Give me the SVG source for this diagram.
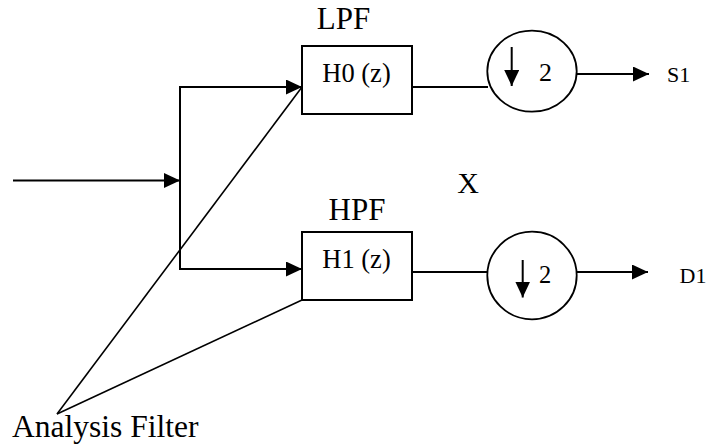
<svg xmlns="http://www.w3.org/2000/svg" width="710" height="446" viewBox="0 0 710 446">
<style>
text{font-family:"Liberation Serif","Times New Roman",serif;fill:#000}
.ln{stroke:#000;stroke-width:2;fill:none}
.thin{stroke:#000;stroke-width:1.6;fill:none}
.box{stroke:#000;stroke-width:2;fill:#fff}
.circ{stroke:#000;stroke-width:1.8;fill:#fff}
</style>
<defs>
<marker id="ah" markerUnits="userSpaceOnUse" markerWidth="16" markerHeight="16" refX="16" refY="7.5" orient="auto">
<path d="M0,0 L16,7.5 L0,15 Z" fill="#000"/>
</marker>
</defs>
<g id="connectors">
<line class="ln" x1="13" y1="180.5" x2="180" y2="180.5" marker-end="url(#ah)"/>
<polyline class="ln" points="302,87 180,87 180,269 302,269"/>
<line class="ln" x1="180" y1="87" x2="302" y2="87" marker-end="url(#ah)"/>
<line class="ln" x1="180" y1="269" x2="302" y2="269" marker-end="url(#ah)"/>
<line class="ln" x1="412" y1="87" x2="488" y2="87"/>
<line class="ln" x1="412" y1="272" x2="488" y2="272"/>
<line class="ln" x1="576" y1="74" x2="649" y2="74" marker-end="url(#ah)"/>
<line class="ln" x1="576" y1="272" x2="648" y2="272" marker-end="url(#ah)"/>
<line class="thin" x1="57" y1="414" x2="302" y2="87"/>
<line class="thin" x1="57" y1="414" x2="302" y2="300"/>
</g>
<g id="lpf">
<rect class="box" x="302" y="46" width="110" height="68"/>
<text x="356.5" y="81.5" font-size="26.5" text-anchor="middle">H0 (z)</text>
<text x="343.5" y="28.5" font-size="31" text-anchor="middle">LPF</text>
</g>
<g id="hpf">
<rect class="box" x="302" y="232" width="110" height="68"/>
<text x="356.5" y="268" font-size="26.5" text-anchor="middle">H1 (z)</text>
<text x="357" y="220" font-size="31" text-anchor="middle">HPF</text>
</g>
<g id="down1">
<ellipse class="circ" cx="532" cy="71.2" rx="44.7" ry="40.5"/>
<line class="ln" x1="511.7" y1="47" x2="511.7" y2="86" marker-end="url(#ah)"/>
<text x="545.5" y="80.5" font-size="26" text-anchor="middle">2</text>
</g>
<g id="down2">
<ellipse class="circ" cx="532" cy="275.5" rx="44.7" ry="43.8"/>
<line class="ln" x1="522.7" y1="260" x2="522.7" y2="297.5" marker-end="url(#ah)"/>
<text x="545" y="283.3" font-size="24.5" text-anchor="middle">2</text>
</g>
<g id="s1"><text x="667" y="81.7" font-size="22">S1</text></g>
<g id="d1"><text x="679.5" y="283.3" font-size="22">D1</text></g>
<g id="x"><text x="468" y="193" font-size="30" text-anchor="middle">X</text></g>
<g id="analysis"><text x="12" y="437.3" font-size="31.5">Analysis Filter</text></g>
</svg>
